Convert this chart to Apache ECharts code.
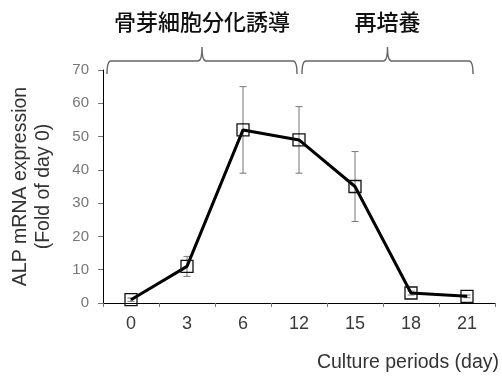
<!DOCTYPE html>
<html>
<head>
<meta charset="utf-8">
<script src="https://cdn.jsdelivr.net/npm/echarts@6/dist/echarts.min.js"></script>
<style>html,body{margin:0;padding:0;background:#fff;}#c{width:502px;height:376px;}</style>
</head>
<body>
<div id="c"></div>
<script>
// Data
var days = ['0', '3', '6', '12', '15', '18', '21'];
var alpMean = [1, 11, 52, 49, 35, 3, 2];
var alpErr = [0.5, 3, 13, 10, 10.5, 0.6, 0.4];
var yTicks = [0, 10, 20, 30, 40, 50, 60, 70];
var phaseLabels = ['骨芽細胞分化誘導', '再培養'];
var phaseStart = [0, 3];   // category index where brace starts
var phaseEnd = [3, 6];     // category index where brace ends

var chart = echarts.init(document.getElementById('c'), null, {renderer: 'canvas'});
var FONT = 'Liberation Sans';

var errData = days.map(function (d, i) { return [i, alpMean[i] - alpErr[i], alpMean[i] + alpErr[i]]; });
var braceData = phaseLabels.map(function (l, i) { return [phaseStart[i], phaseEnd[i], i]; });

chart.setOption({
  animation: false,
  backgroundColor: '#fff',
  grid: {left: 103, right: 7, top: 70, bottom: 73},
  xAxis: {
    type: 'category',
    data: days,
    boundaryGap: true,
    axisLine: {lineStyle: {color: '#000', width: 1}},
    axisTick: {show: true, length: 4, lineStyle: {color: '#777'}},
    axisLabel: {color: '#3a3a3a', fontSize: 18, fontFamily: FONT, margin: 12},
    name: 'Culture periods (day)',
    nameLocation: 'end',
    nameGap: 4,
    nameTextStyle: {color: '#333', fontSize: 19.5, fontFamily: FONT, align: 'right', verticalAlign: 'top', padding: [50, 0, 0, 0]}
  },
  yAxis: {
    type: 'value',
    min: 0, max: 70, interval: 10,
    axisLine: {show: true, lineStyle: {color: '#000', width: 1}},
    axisTick: {show: true, length: 5, lineStyle: {color: '#777'}},
    splitLine: {show: false},
    axisLabel: {color: '#777', fontSize: 15, fontFamily: FONT, margin: 14},
    name: 'ALP mRNA expression\n(Fold of day 0)',
    nameLocation: 'middle',
    nameGap: 48,
    nameTextStyle: {color: '#333', fontSize: 19.5, fontFamily: FONT, lineHeight: 23}
  },
  series: [
    {
      type: 'custom',
      name: 'err',
      data: errData,
      z: 1,
      renderItem: function (params, api) {
        var x = api.value(0);
        var lo = api.coord([x, api.value(1)]);
        var hi = api.coord([x, api.value(2)]);
        var w = 3.5;
        var st = {stroke: '#777', lineWidth: 1};
        return {type: 'group', children: [
          {type: 'line', shape: {x1: lo[0], y1: lo[1], x2: hi[0], y2: hi[1]}, style: st},
          {type: 'line', shape: {x1: lo[0] - w, y1: lo[1], x2: lo[0] + w, y2: lo[1]}, style: st},
          {type: 'line', shape: {x1: hi[0] - w, y1: hi[1], x2: hi[0] + w, y2: hi[1]}, style: st}
        ]};
      }
    },
    {
      type: 'line',
      name: 'ALP',
      data: alpMean,
      z: 3,
      symbol: 'rect',
      symbolSize: 12,
      showAllSymbol: true,
      lineStyle: {color: '#000', width: 3},
      itemStyle: {color: 'rgba(0,0,0,0)', borderColor: '#111', borderWidth: 1.3}
    },
    {
      type: 'custom',
      name: 'braces',
      data: braceData,
      clip: false,
      silent: true,
      renderItem: function (params, api) {
        var a = api.coord([api.value(0), 70]);
        var b = api.coord([api.value(1), 70]);
        var step = api.size([1, 0])[0];
        var idx = api.value(2);
        var x0 = idx === 0 ? a[0] - step / 2 + 4 : a[0] + 3;
        var x1 = idx === 0 ? b[0] - 2 : b[0] + 6;
        var yb = a[1] + 4;
        var yt = a[1] - 9;
        var yp = a[1] - 23;
        var xm = (x0 + x1) / 2;
        var r = 4;
        var path = 'M' + x0 + ' ' + yb +
          ' Q' + x0 + ' ' + yt + ' ' + (x0 + r) + ' ' + yt +
          ' L' + (xm - r) + ' ' + yt +
          ' Q' + xm + ' ' + yt + ' ' + xm + ' ' + yp +
          ' Q' + xm + ' ' + yt + ' ' + (xm + r) + ' ' + yt +
          ' L' + (x1 - r) + ' ' + yt +
          ' Q' + x1 + ' ' + yt + ' ' + x1 + ' ' + yb;
        return {type: 'group', children: [
          {type: 'path', shape: {pathData: path}, style: {fill: null, stroke: '#666', lineWidth: 1.4}},
          {type: 'text', style: {text: phaseLabels[idx], x: xm, y: a[1] - 48, align: 'center', verticalAlign: 'middle',
            font: '500 22px "Noto Sans CJK JP"', fill: '#111'}}
        ]};
      }
    }
  ]
});
</script>
</body>
</html>
